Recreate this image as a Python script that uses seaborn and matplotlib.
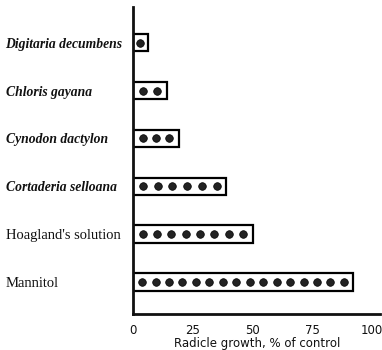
import numpy as np
import pandas as pd
import matplotlib
matplotlib.use("Agg")
import matplotlib.pyplot as plt
import seaborn as sns

treatments = ["Digitaria decumbens", "Chloris gayana", "Cynodon dactylon",
              "Cortaderia selloana", "Hoagland's solution", "Mannitol"]
growth = [6, 14, 19, 39, 50, 92]
dot_counts = [1, 2, 3, 6, 8, 16]
italic = [True, True, True, True, False, False]
xticks = [0, 25, 50, 75, 100]
xlabel = "Radicle growth, % of control"

sns.set_theme(style="white")
plt.rcParams["font.family"] = ["DejaVu Sans"]

df = pd.DataFrame({"treatment": treatments, "growth": growth})

rows = []
for i, (v, n) in enumerate(zip(growth, dot_counts)):
    if n == 1:
        xs = [v / 2]
    else:
        m = min(4.0, v / (2 * n) + 0.8)
        xs = np.linspace(m, v - m, n)
    for x in xs:
        rows.append({"x": x, "y": i})
dots = pd.DataFrame(rows)

fig = plt.figure(figsize=(3.82, 3.5), dpi=100)
ax = fig.add_axes([0.349, 0.103, 0.646, 0.877])

sns.barplot(data=df, x="growth", y="treatment", orient="h", color="white",
            edgecolor="black", linewidth=1.6, width=0.36, ax=ax, zorder=2)
sns.scatterplot(data=dots, x="x", y="y", color="#222222", s=30, linewidth=0.5,
                edgecolor="#000000", ax=ax, zorder=3, legend=False)

ax.set_xlim(0, 103.5)
ax.set_ylim(5.67, -0.75)
ax.set_xticks(xticks)
ax.set_xticklabels([str(t) for t in xticks], fontsize=8.5, color="#111111")
ax.set_yticks(range(len(treatments)))
ax.set_yticklabels(treatments)
for lab, it in zip(ax.get_yticklabels(), italic):
    lab.set_family(["Liberation Serif", "DejaVu Serif"])
    lab.set_color("#111111")
    lab.set_horizontalalignment("left")
    if it:
        lab.set_fontsize(9.8)
        lab.set_fontstyle("italic")
        lab.set_fontweight("bold")
    else:
        lab.set_fontsize(10.5)
ax.tick_params(axis="y", length=0, pad=92)
ax.tick_params(axis="x", direction="inout", length=7, width=1.6, color="#111111", pad=4)
ax.set_xlabel(xlabel, fontsize=8.5, color="#111111", labelpad=0)
ax.set_ylabel("")
for s in ["top", "right"]:
    ax.spines[s].set_visible(False)
for s in ["left", "bottom"]:
    ax.spines[s].set_linewidth(2)
    ax.spines[s].set_color("#111111")

fig.savefig("out.png", dpi=100)
